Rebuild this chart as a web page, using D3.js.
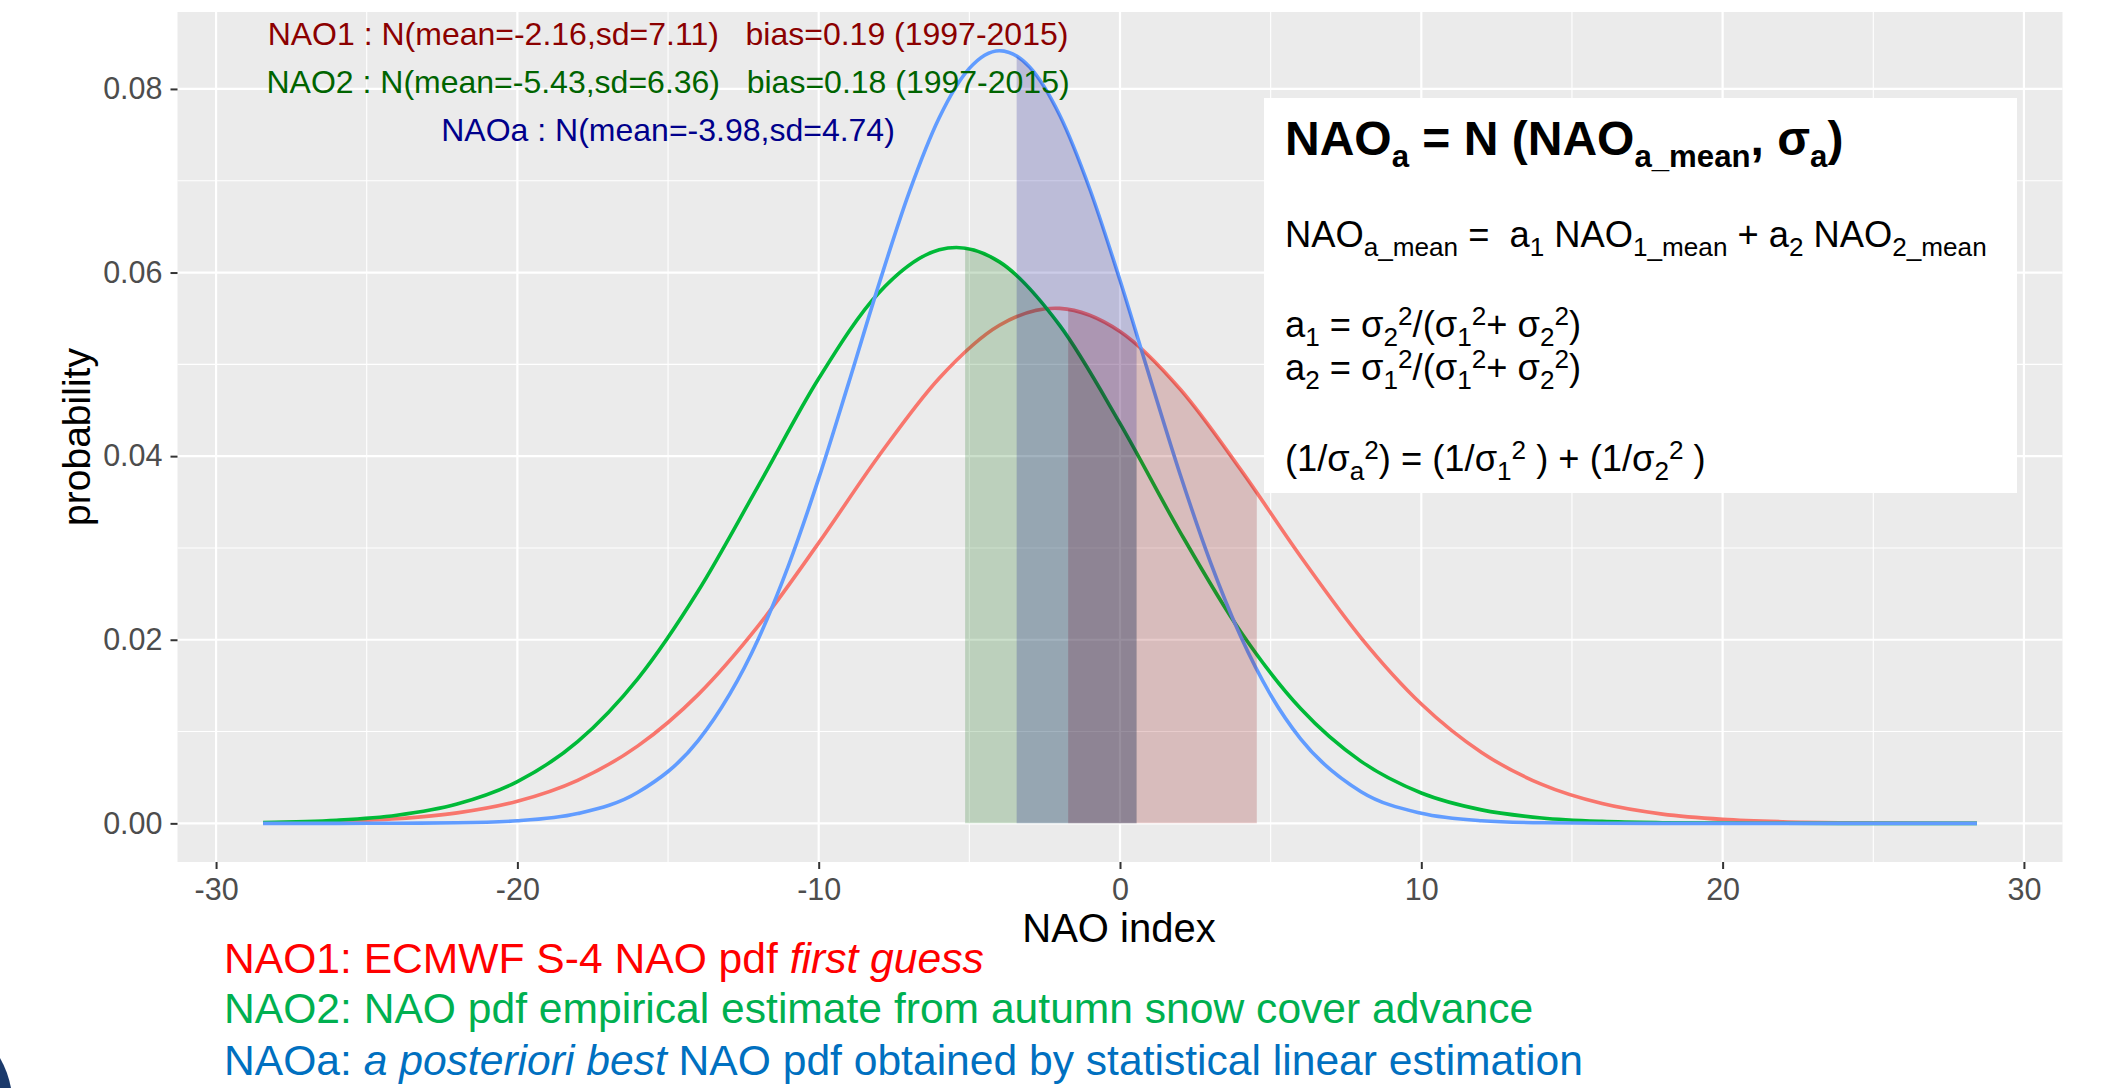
<!DOCTYPE html>
<html><head><meta charset="utf-8">
<script src="https://cdn.jsdelivr.net/npm/d3@7"></script>
<style>
body{margin:0;background:#fff;}
svg{display:block;}
text{font-family:"Liberation Sans",Arial,Helvetica,sans-serif;white-space:pre;}
</style>
</head><body>
<svg id="chart" width="2112" height="1088"></svg>
<script>
// ---------------- data ----------------
const xs1 = [-28.44,-26,-24,-22,-20,-18,-16,-14,-12,-10,-8,-6,-4,-2.16,-2,0,2,4,6,8,10,12,14,16,18,20,22,24,26,28.44];
const nao1 = [0.00006,0.000203,0.000501,0.001143,0.002409,0.00469,0.008437,0.014024,0.021535,0.030549,0.040045,0.048495,0.054262,0.05611,0.056096,0.053579,0.047283,0.038553,0.029041,0.020212,0.012999,0.007722,0.004239,0.00215,0.001008,0.000436,0.000174,0.000065,0.000022,0.000005];
const xs2 = [-28.44,-26,-24,-22,-20,-18,-16,-14,-12,-10,-8,-6,-5.43,-4,-2,0,2,4,6,8,10,12,14,16,18,20,22,24,26,28.44];
const nao2 = [0.000092,0.000336,0.000884,0.002106,0.004549,0.008897,0.015766,0.025304,0.03679,0.048456,0.057809,0.062476,0.062727,0.061161,0.054237,0.04357,0.031703,0.020897,0.012478,0.006749,0.003306,0.001467,0.00059,0.000215,0.000071,0.000021,0.000006,0.0000015,0,0];
const xsA = [-28.44,-26,-24,-22,-20,-18,-16,-14,-12,-11,-10,-9,-8,-7,-6,-5,-4,-3,-2,-1,0,1,2,3,4,5,6,8,10,12,14,16,18,20,22,24,26,28.44];
const naoA = [0.0000001,0.0000017,0.0000113,0.0000612,0.000278,0.00106,0.003379,0.009012,0.020113,0.02811,0.037572,0.048037,0.05874,0.068704,0.07686,0.082238,0.084164,0.082385,0.077133,0.069073,0.05916,0.048466,0.037976,0.028462,0.020401,0.013988,0.009173,0.003452,0.001087,0.000286,0.0000632,0.0000117,0.0000018,0.0000002,0,0,0,0];

const seriesNames = ["NAO1","NAO2","NAOa"];
const bandNAO1 = [-1.72, 4.54];
const bandNAO2 = [-5.14, 0.55];
const bandNAOa = [-3.43, 0.55];

const xTicks = [-30,-20,-10,0,10,20,30];
const xTickLabels = ["-30","-20","-10","0","10","20","30"];
const xMinor = [-25,-15,-5,5,15,25];
const yTicks = [0,0.02,0.04,0.06,0.08];
const yTickLabels = ["0.00","0.02","0.04","0.06","0.08"];
const yMinor = [0.01,0.03,0.05,0.07];
const xDomain = [-31.28, 31.28];
const yDomain = [-0.00421, 0.08838];

const annX = -15;
const annY = [0.0860, 0.0808, 0.0756];
const annTexts = [
  "NAO1 : N(mean=-2.16,sd=7.11)   bias=0.19 (1997-2015)",
  "NAO2 : N(mean=-5.43,sd=6.36)   bias=0.18 (1997-2015)",
  "NAOa : N(mean=-3.98,sd=4.74)"
];

// ---------------- layout ----------------
const svg = d3.select("#chart");
const P = {left:177.5, right:2062.5, top:12, bottom:862};
const x = d3.scaleLinear().domain(xDomain).range([P.left, P.right]);
const y = d3.scaleLinear().domain(yDomain).range([P.bottom, P.top]);

svg.append("rect").attr("width",2112).attr("height",1088).attr("fill","#fff");

// panel
svg.append("rect").attr("x",P.left).attr("y",P.top)
  .attr("width",P.right-P.left).attr("height",P.bottom-P.top).attr("fill","#EBEBEB");

const grid = svg.append("g");
grid.selectAll(".xmin").data(xMinor).enter().append("line")
  .attr("x1",d=>x(d)).attr("x2",d=>x(d)).attr("y1",P.top).attr("y2",P.bottom)
  .attr("stroke","#fff").attr("stroke-width",1.1);
grid.selectAll(".ymin").data(yMinor).enter().append("line")
  .attr("y1",d=>y(d)).attr("y2",d=>y(d)).attr("x1",P.left).attr("x2",P.right)
  .attr("stroke","#fff").attr("stroke-width",1.1);
grid.selectAll(".xmaj").data(xTicks).enter().append("line")
  .attr("x1",d=>x(d)).attr("x2",d=>x(d)).attr("y1",P.top).attr("y2",P.bottom)
  .attr("stroke","#fff").attr("stroke-width",2.2);
grid.selectAll(".ymaj").data(yTicks).enter().append("line")
  .attr("y1",d=>y(d)).attr("y2",d=>y(d)).attr("x1",P.left).attr("x2",P.right)
  .attr("stroke","#fff").attr("stroke-width",2.2);

// curves
const lineGen = d3.line().x(d=>x(d[0])).y(d=>y(d[1])).curve(d3.curveMonotoneX);
const areaGen = d3.area().x(d=>x(d[0])).y0(y(0)).y1(d=>y(d[1])).curve(d3.curveMonotoneX);
const d1 = xs1.map((v,i)=>[v,nao1[i]]);
const d2 = xs2.map((v,i)=>[v,nao2[i]]);
const dA = xsA.map((v,i)=>[v,naoA[i]]);

const plot = svg.append("g");
[[d1,"#F8766D"],[d2,"#00BA38"],[dA,"#619CFF"]].forEach(([d,c])=>{
  plot.append("path").attr("d",lineGen(d)).attr("fill","none")
    .attr("stroke",c).attr("stroke-width",3.6).attr("stroke-linejoin","round");
});

// shaded bands (area under each curve within a range)
const defs = svg.append("defs");
function band(id, range, data, fill){
  defs.append("clipPath").attr("id",id).append("rect")
    .attr("x",x(range[0])).attr("width",x(range[1])-x(range[0]))
    .attr("y",P.top).attr("height",P.bottom-P.top);
  plot.append("path").attr("d",areaGen(data)).attr("fill",fill)
    .attr("fill-opacity",0.2).attr("clip-path",`url(#${id})`);
}
band("cg", bandNAO2, d2, "#006400");
band("cr", bandNAO1, d1, "#8B0000");
band("cb", bandNAOa, dA, "#00008B");

// axes
const xAxis = d3.axisBottom(x).tickValues(xTicks).tickFormat((d,i)=>xTickLabels[i])
  .tickSize(7).tickPadding(9);
const gx = svg.append("g").attr("transform",`translate(0,${P.bottom})`).call(xAxis);
const yAxis = d3.axisLeft(y).tickValues(yTicks).tickFormat((d,i)=>yTickLabels[i])
  .tickSize(7).tickPadding(8);
const gy = svg.append("g").attr("transform",`translate(${P.left},0)`).call(yAxis);
[gx,gy].forEach(g=>{
  g.select(".domain").remove();
  g.selectAll(".tick line").attr("stroke","#333").attr("stroke-width",2);
  g.selectAll(".tick text").attr("fill","#4D4D4D").attr("font-size",30.5)
    .attr("font-family","'Liberation Sans',Arial,sans-serif");
});

svg.append("text").attr("x",1119).attr("y",942).attr("text-anchor","middle")
  .attr("font-size",40).attr("fill","#000").text("NAO index");
svg.append("text").attr("transform","translate(90,437) rotate(-90)")
  .attr("text-anchor","middle").attr("font-size",39).attr("fill","#000").text("probability");

// annotations
const annColors = ["#8B0000","#006400","#00008B"];
annTexts.forEach((t,i)=>{
  svg.append("text").attr("x",x(annX)).attr("y",y(annY[i])).attr("dy","0.35em")
    .attr("text-anchor","middle").attr("font-size",32).attr("fill",annColors[i]).text(t);
});

// formula box
svg.append("rect").attr("x",1264).attr("y",98).attr("width",753).attr("height",395).attr("fill","#fff");

function rich(px, base, size, weight, segs, color, subScale){
  const t = svg.append("text").attr("x",px).attr("y",base).attr("font-size",size)
    .attr("font-weight",weight).attr("fill",color||"#000");
  segs.forEach(([s,k])=>{
    const ts = t.append("tspan").text(s);
    if(k==="sub"){ ts.attr("y",base+size*0.26).attr("font-size",size*subScale); }
    else if(k==="sup"){ ts.attr("y",base-size*0.33).attr("font-size",size*subScale); }
    else if(k==="i"){ ts.attr("y",base).attr("font-style","italic"); }
    else { ts.attr("y",base); }
  });
  return t;
}
const fTitle = [["NAO","n"],["a","sub"],[" = N (NAO","n"],["a_mean","sub"],[", σ","n"],["a","sub"],[")","n"]];
const f2 = [["NAO","n"],["a_mean","sub"],[" =  a","n"],["1","sub"],[" NAO","n"],["1_mean","sub"],[" + a","n"],["2","sub"],[" NAO","n"],["2_mean","sub"]];
const f3 = [["a","n"],["1","sub"],[" = σ","n"],["2","sub"],["2","sup"],["/(σ","n"],["1","sub"],["2","sup"],["+ σ","n"],["2","sub"],["2","sup"],[")","n"]];
const f4 = [["a","n"],["2","sub"],[" = σ","n"],["1","sub"],["2","sup"],["/(σ","n"],["1","sub"],["2","sup"],["+ σ","n"],["2","sub"],["2","sup"],[")","n"]];
const f5 = [["(1/σ","n"],["a","sub"],["2","sup"],[") = (1/σ","n"],["1","sub"],["2","sup"],[" ) + (1/σ","n"],["2","sub"],["2","sup"],[" )","n"]];
rich(1285,155,48,"bold",fTitle,"#000",0.65);
rich(1285,247,36.3,"normal",f2,"#000",0.72);
rich(1285,337,36.3,"normal",f3,"#000",0.72);
rich(1285,380,36.3,"normal",f4,"#000",0.72);
rich(1285,471,36.3,"normal",f5,"#000",0.72);

// caption lines under the chart
const leg1 = [["NAO1: ECMWF S-4 NAO pdf ","n"],["first guess","i"]];
const leg2 = [["NAO2: NAO pdf empirical estimate from autumn snow cover advance","n"]];
const leg3 = [["NAOa: ","n"],["a posteriori best","i"],[" NAO pdf obtained by statistical linear estimation","n"]];
rich(224,973,42.6,"normal",leg1,"#FF0000",1);
rich(224,1023,42.6,"normal",leg2,"#00B050",1);
rich(224,1075,42.6,"normal",leg3,"#0070C0",1);

// slide corner decoration
svg.append("path").attr("d","M0,1058 Q8,1072 11,1088 L0,1088 Z").attr("fill","#1B3A6B");
</script>
</body></html>
